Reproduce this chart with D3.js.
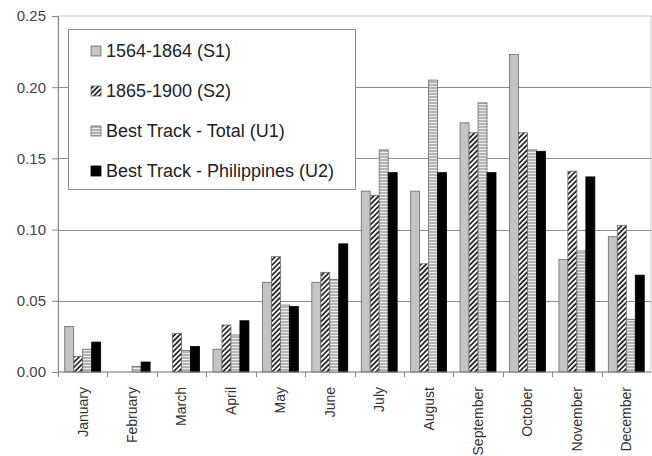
<!DOCTYPE html>
<html>
<head>
<meta charset="utf-8">
<script src="https://cdn.jsdelivr.net/npm/d3@7"></script>
<style>
  body { margin: 0; background: #fff; }
  svg { display: block; font-family: "Liberation Sans", Arial, sans-serif; }
</style>
</head>
<body>
<div id="chart"></div>
<script>
const months = ['January', 'February', 'March', 'April', 'May', 'June', 'July',
    'August', 'September', 'October', 'November', 'December'];
const seriesKeys = ['S1', 'S2', 'U1', 'U2'];
const seriesLabels = ['1564-1864 (S1)', '1865-1900 (S2)', 'Best Track - Total (U1)', 'Best Track - Philippines (U2)'];
const s1 = [0.032, 0, 0, 0.016, 0.063, 0.063, 0.127, 0.127, 0.175, 0.223, 0.079, 0.095];
const s2 = [0.011, 0, 0.027, 0.033, 0.081, 0.070, 0.124, 0.076, 0.168, 0.168, 0.141, 0.103];
const u1 = [0.016, 0.004, 0.015, 0.026, 0.047, 0.065, 0.156, 0.205, 0.189, 0.156, 0.085, 0.037];
const u2 = [0.021, 0.007, 0.018, 0.036, 0.046, 0.090, 0.140, 0.140, 0.140, 0.155, 0.137, 0.068];
const yTicks = [0, 0.05, 0.10, 0.15, 0.20, 0.25];

const W = 652, H = 456;
const margin = { top: 16, right: 1, bottom: 84, left: 58 };

const svg = d3.select('#chart').append('svg')
    .attr('width', W)
    .attr('height', H);

// Patrons de farciment
const defs = svg.append('defs');
const hatch = defs.append('pattern')
    .attr('id', 'hatch')
    .attr('patternUnits', 'userSpaceOnUse')
    .attr('width', 3.6)
    .attr('height', 3.6)
    .attr('patternTransform', 'rotate(45)');
hatch.append('rect').attr('width', 3.6).attr('height', 3.6).attr('fill', '#fff');
hatch.append('line')
    .attr('x1', 1).attr('x2', 1).attr('y1', 0).attr('y2', 3.6)
    .attr('stroke', '#111').attr('stroke-width', 1.6);

const hlines = defs.append('pattern')
    .attr('id', 'hlines')
    .attr('patternUnits', 'userSpaceOnUse')
    .attr('width', 4)
    .attr('height', 3);
hlines.append('rect').attr('width', 4).attr('height', 3).attr('fill', '#b4b4b4');
hlines.append('rect').attr('y', 2).attr('width', 4).attr('height', 1).attr('fill', '#ececec');

const fills = { S1: '#c4c4c4', S2: 'url(#hatch)', U1: 'url(#hlines)', U2: '#000' };
const values = { S1: s1, S2: s2, U1: u1, U2: u2 };

const x0 = d3.scaleBand()
    .domain(months)
    .range([margin.left, W - margin.right])
    .padding(0);

const x1 = d3.scaleBand()
    .domain(seriesKeys)
    .range([0, x0.bandwidth()])
    .paddingInner(0)
    .paddingOuter(0.75);

const y = d3.scaleLinear()
    .domain([0, 0.25])
    .range([H - margin.bottom, margin.top]);

// Vora de l'àrea del gràfic
svg.append('rect')
    .attr('x', margin.left)
    .attr('y', y(0.25))
    .attr('width', W - margin.right - margin.left)
    .attr('height', y(0) - y(0.25))
    .attr('fill', 'none')
    .attr('stroke', '#d8d8d8')
    .attr('stroke-width', 1.5);

// Línies de quadrícula
svg.append('g')
    .selectAll('line')
    .data(yTicks.filter(t => t > 0 && t < 0.25))
    .join('line')
    .attr('x1', margin.left)
    .attr('x2', W - margin.right)
    .attr('y1', d => Math.round(y(d)) + 0.5)
    .attr('y2', d => Math.round(y(d)) + 0.5)
    .attr('stroke', '#8c8c8c')
    .attr('stroke-width', 1);

// Barres
months.forEach((m, i) => {
    const g = svg.append('g').attr('transform', `translate(${x0(m)},0)`);
    seriesKeys.forEach(k => {
        const v = values[k][i];
        if (!v) return;
        g.append('rect')
            .attr('x', x1(k))
            .attr('y', y(v))
            .attr('width', x1.bandwidth())
            .attr('height', y(0) - y(v))
            .attr('fill', fills[k])
            .attr('stroke', k === 'U2' ? '#000' : '#6a6a6a')
            .attr('stroke-width', 0.8);
    });
});

// Eix Y
const yAxis = svg.append('g')
    .attr('transform', `translate(${margin.left},0)`)
    .call(d3.axisLeft(y).tickValues(yTicks).tickFormat(d3.format('.2f')).tickSize(6).tickPadding(6));
yAxis.select('.domain').attr('stroke', '#888');
yAxis.selectAll('.tick line').attr('stroke', '#888');
yAxis.selectAll('text')
    .attr('font-size', '15px')
    .attr('fill', '#444')
    .style('font-family', '"Liberation Sans", Arial, sans-serif');

// Eix X
const xAxis = svg.append('g')
    .attr('transform', `translate(0,${y(0)})`);
xAxis.append('line')
    .attr('x1', margin.left).attr('x2', W - margin.right)
    .attr('y1', 0).attr('y2', 0)
    .attr('stroke', '#888');
xAxis.selectAll('.sep')
    .data(months)
    .join('line')
    .attr('class', 'sep')
    .attr('x1', d => Math.round(x0(d)) + 0.5)
    .attr('x2', d => Math.round(x0(d)) + 0.5)
    .attr('y1', 0).attr('y2', 5)
    .attr('stroke', '#888');
xAxis.selectAll('.lab')
    .data(months)
    .join('text')
    .attr('class', 'lab')
    .attr('transform', d => `translate(${x0(d) + x0.bandwidth() / 2},15) rotate(-90)`)
    .attr('text-anchor', 'end')
    .attr('dy', '0.35em')
    .attr('font-size', '14px')
    .attr('fill', '#333')
    .text(d => d);

// Llegenda
const legend = svg.append('g');
legend.append('rect')
    .attr('x', 68.5).attr('y', 29.5)
    .attr('width', 287).attr('height', 160)
    .attr('fill', '#fff')
    .attr('stroke', '#8c8c8c');
seriesKeys.forEach((k, i) => {
    const cy = 51 + i * 40;
    legend.append('rect')
        .attr('x', 91).attr('y', cy - 5)
        .attr('width', 10).attr('height', 10)
        .attr('fill', fills[k])
        .attr('stroke', k === 'U2' ? '#000' : '#6a6a6a')
        .attr('stroke-width', 0.8);
    legend.append('text')
        .attr('x', 106)
        .attr('y', cy)
        .attr('dy', '0.35em')
        .attr('font-size', '18px')
        .attr('fill', '#222')
        .text(seriesLabels[i]);
});
</script>
</body>
</html>
